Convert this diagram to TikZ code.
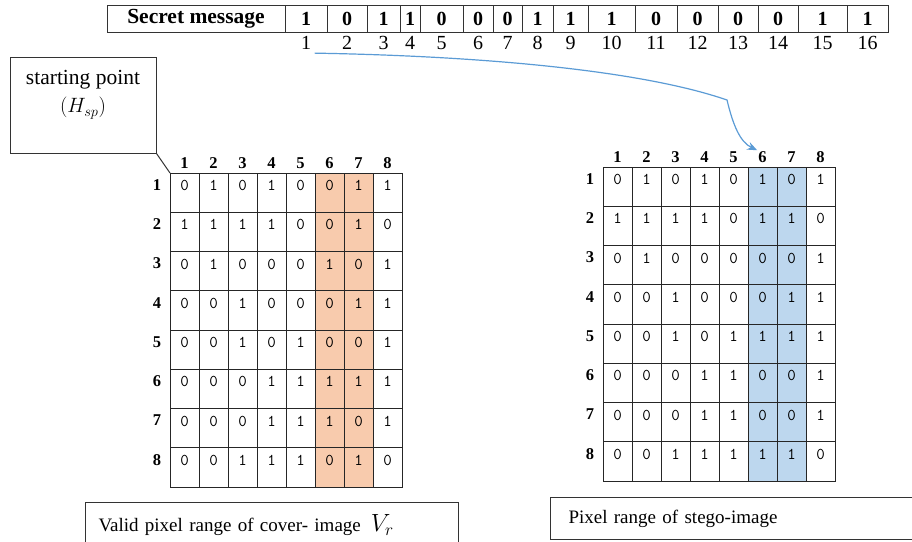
\documentclass[tikz,border=0pt]{standalone}
\usepackage{fontspec}
\setmainfont{Liberation Serif}
\usepackage{xcolor}
\usepackage{tikz}
\usetikzlibrary{chains,positioning,arrows.meta}
\definecolor{coverfill}{HTML}{F8CBAD}
\definecolor{stegofill}{HTML}{BDD7EE}
\definecolor{flowblue}{HTML}{5B9BD5}
\tikzset{
  sm head/.style={
    rectangle,
    draw=black!80,
    line width=1pt,
    minimum width=178pt,
    minimum height=27pt,
    inner sep=0pt,
    outer sep=0pt,
    font=\fontsize{21.5}{24}\selectfont\bfseries,
  },
  sm bit/.style={
    rectangle,
    draw=black!80,
    line width=1pt,
    minimum height=27pt,
    inner sep=0pt,
    outer sep=0pt,
    font=\fontsize{20}{24}\selectfont\bfseries,
  },
  sm index/.style={font=\fontsize{20}{24}\selectfont},
  px cell/.style={
    rectangle,
    draw=black!85,
    line width=1pt,
    anchor=north west,
    inner sep=0pt,
    outer sep=0pt,
    minimum width=29pt,
    minimum height=39.25pt,
    text height=17.5pt,
    text depth=21.75pt,
    font=\fontsize{16.5}{19}\selectfont\ttfamily,
  },
  px head/.style={inner sep=1pt, font=\fontsize{16.5}{18}\selectfont\bfseries},
  cover 6/.style={fill=coverfill},
  cover 7/.style={fill=coverfill},
  stego 6/.style={fill=stegofill},
  stego 7/.style={fill=stegofill},
  note box/.style={rectangle, draw=black!80, line width=1pt, minimum width=146pt, minimum height=96pt},
  note text/.style={align=center, inner sep=0pt, font=\fontsize{21.5}{28}\selectfont},
  note line/.style={draw=black!80, line width=1pt},
  cap box/.style={
    rectangle,
    draw=black!80,
    line width=1pt,
    anchor=north west,
    align=left,
    font=\fontsize{19}{22}\selectfont,
  },
  flow/.style={-{Stealth[length=10pt,width=8pt]}, line width=1.2pt, draw=flowblue},
}

\begin{document}
\begin{tikzpicture}[x=1pt, y=-1pt]
  \useasboundingbox (0,0) rectangle (912,541);
  \clip (0,0) rectangle (912,541);

  % message bits
  \begin{scope}[start chain=going right, node distance=0pt]
    \node[sm head, on chain] (msg) at (196,18.5) {Secret message};
    \foreach \w/\b [count=\i] in {42/1,40/0,33/1,20/1,43/0,30/0,29/0,31/1,
                                  35/1,47/1,42/0,41/0,40/0,40/0,49/1,41/1} {
      \node[sm bit, minimum width=\w*1pt, on chain] (bit\i) {\b};
      \node[sm index] (n\i) at ([yshift=-11pt]bit\i.south) {\i};
    }
  \end{scope}

  % cover image block
  \foreach \bits [count=\row] in {{0,1,0,1,0,0,1,1},{1,1,1,1,0,0,1,0},{0,1,0,0,0,1,0,1},
      {0,0,1,0,0,0,1,1},{0,0,1,0,1,0,0,1},{0,0,0,1,1,1,1,1},{0,0,0,1,1,1,0,1},{0,0,1,1,1,0,1,0}} {
    \foreach \v [count=\col] in \bits
      \node[px cell, cover \col/.try] (cover-\row-\col) at ({170+(\col-1)*29},{173+(\row-1)*39.25}) {\v};
  }
  % stego image block
  \foreach \bits [count=\row] in {{0,1,0,1,0,1,0,1},{1,1,1,1,0,1,1,0},{0,1,0,0,0,0,0,1},
      {0,0,1,0,0,0,1,1},{0,0,1,0,1,1,1,1},{0,0,0,1,1,0,0,1},{0,0,0,1,1,0,0,1},{0,0,1,1,1,1,1,0}} {
    \foreach \v [count=\col] in \bits
      \node[px cell, stego \col/.try] (stego-\row-\col) at ({603+(\col-1)*29},{167+(\row-1)*39.25}) {\v};
  }
  \foreach \k in {1,...,8} {
    \node[px head] (coverhead\k) at ([yshift=9.5pt]cover-1-\k.north) {\k};
    \node[px head] (coverrow\k) at ([xshift=-13pt,yshift=-12pt]cover-\k-1.north west) {\k};
    \node[px head] (stegohead\k) at ([yshift=10pt]stego-1-\k.north) {\k};
    \node[px head] (stegorow\k) at ([xshift=-13pt,yshift=-12pt]stego-\k-1.north west) {\k};
  }

  % callout for the starting point
  \node[note box] (hsp) at (83,105) {};
  \node[note text, below=14pt of hsp.north] (hsptext) {starting point\\$(H_{sp})$};
  \draw[note line] (hsp.south east) -- (cover-1-1.north west);

  \node[cap box, text width=347pt, inner xsep=13pt, minimum height=46pt] (coverlbl) at (85,502)
    {Valid pixel range of cover- image\hspace{10pt}{\fontsize{25}{28}\selectfont$V_r$}};
  \node[cap box, text width=329pt, inner xsep=18pt, minimum height=42pt] (stegolbl) at (550,497)
    {Pixel range of stego-image};

  \draw[flow] (n1.south east) .. controls (480,56) and (640,70) .. (727,100)
    .. controls (733,125) and (740,142) .. (stegohead6.north west);
\end{tikzpicture}
\end{document}
